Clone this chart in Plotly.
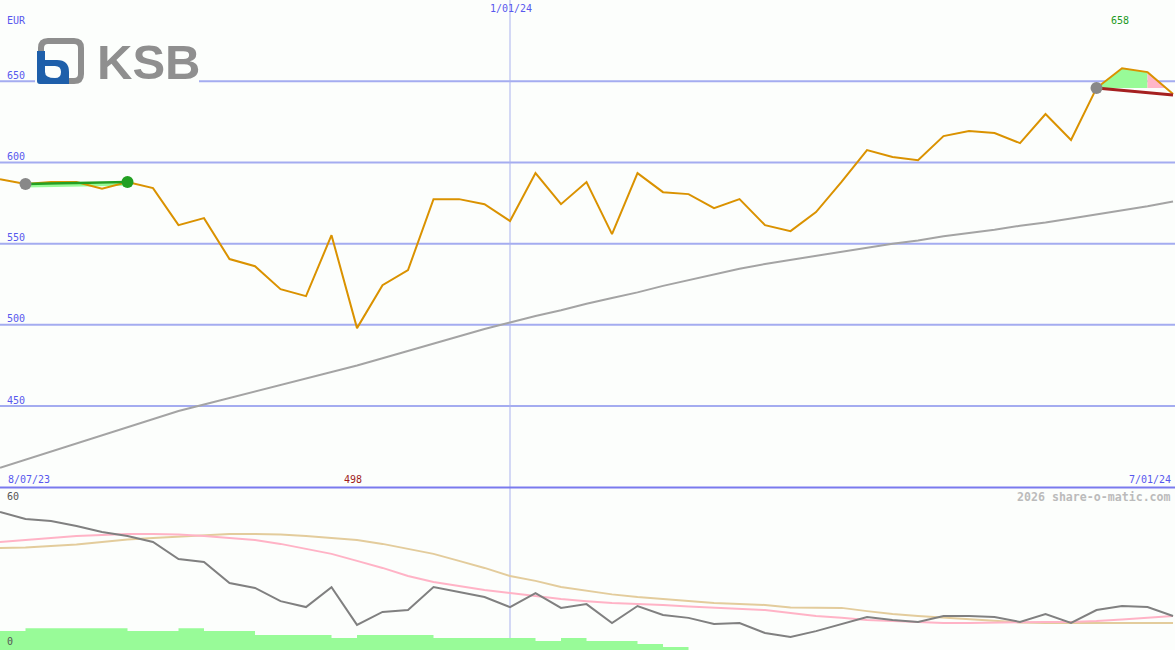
import plotly.graph_objects as go
import pandas as pd

# ---------------- data ----------------
dates = pd.date_range("2023-08-14", periods=47, freq="7D")

price = [589.7, 586.7, 587.9, 587.9, 583.8, 587.9, 584.2, 561.4, 565.7, 540.5,
         536.1, 522.0, 517.7, 555.2, 498.0, 524.4, 533.7, 577.4, 577.4, 574.3,
         563.9, 593.4, 574.3, 587.9, 555.9, 593.4, 581.7, 580.5, 571.9, 577.4,
         561.4, 557.7, 569.4, 588.0, 607.6, 603.3, 601.4, 616.2, 619.3, 618.1,
         611.9, 629.8, 613.8, 645.8, 658.0, 655.6, 642.1]

ma_long = [412, 417, 422, 427, 432, 437, 442, 447, 451, 455,
           459, 463, 467, 471, 475, 479.5, 484, 488.5, 493, 497.5,
           501.5, 505.5, 509, 513, 516.5, 520, 524, 527.5, 531, 534.5,
           537.5, 540, 542.5, 545, 547.5, 550, 552, 554.5, 556.5, 558.5,
           561, 563, 565.5, 568, 570.5, 573, 576]

ind_dark = [51.1, 48.5, 47.8, 45.9, 43.7, 42.2, 40.0, 33.7, 32.6, 24.8,
            23.0, 18.1, 15.9, 23.3, 9.3, 14.1, 14.8, 23.3, 21.5, 19.6,
            15.9, 21.1, 15.6, 17.0, 10.0, 16.3, 13.0, 11.9, 9.6, 10.0,
            6.3, 4.8, 7.0, 9.6, 12.2, 11.1, 10.4, 12.6, 12.6, 12.2,
            10.4, 13.3, 10.0, 14.8, 16.3, 15.9, 12.6]

ind_pink = [40.0, 40.7, 41.5, 42.2, 42.6, 43.0, 43.0, 42.8, 42.2, 41.5,
            40.7, 39.3, 37.4, 35.6, 33.0, 30.4, 27.4, 25.2, 23.7, 22.2,
            21.1, 20.0, 18.9, 18.1, 17.4, 17.0, 16.7, 16.1, 15.7, 15.4,
            14.8, 13.7, 12.6, 11.9, 11.1, 10.7, 10.4, 10.0, 10.0, 10.2,
            10.4, 10.4, 10.4, 10.7, 11.3, 12.0, 12.6]

ind_tan = [37.8, 38.0, 38.5, 39.1, 40.0, 40.9, 41.5, 42.0, 42.6, 43.0,
           43.0, 42.8, 42.2, 41.5, 40.7, 39.3, 37.4, 35.6, 33.0, 30.4,
           27.4, 25.6, 23.3, 21.9, 20.6, 19.6, 18.9, 18.1, 17.4, 17.0,
           16.7, 15.7, 15.6, 15.6, 14.4, 13.3, 12.6, 12.0, 11.3, 10.6,
           10.2, 10.0, 10.0, 10.0, 10.0, 10.0, 10.0]

bars = [7.0, 8.1, 8.1, 8.1, 8.1, 7.0, 7.0, 8.1, 7.0, 7.0,
        5.6, 5.6, 5.6, 4.4, 5.6, 5.6, 5.6, 4.4, 4.4, 4.4,
        4.4, 3.3, 4.4, 3.3, 3.3, 2.2, 1.1]

y_ticks = [450, 500, 550, 600, 650]
trade1 = (1, 5)          # entry / exit index of first trade
trade2_entry = 43        # entry index of open trade
trail_end = 641.5        # trailing line end value
high_label = "658"
low_label = "498"
start_label = "8/07/23"
mid_label = "1/01/24"
end_label = "7/01/24"

# ---------------- helpers ----------------
W, H = 1175, 650
BG = "#FCFEFC"
BLUE_TXT = "#5858EE"
GRID = "#A4ACF0"
FONT = "DejaVu Sans Mono"


def px(x):
    return x / W


def py(y):
    return 1 - y / H


fig = go.Figure()

# lower step histogram (bars span one week each)
bx = list(dates[:len(bars) + 1])
by = bars + [bars[-1]]
fig.add_trace(go.Scatter(x=bx, y=by, yaxis="y2", mode="lines", line_shape="hv",
                         line=dict(width=0, color="#98FB98"), fill="tozeroy",
                         fillcolor="#98FB98", hoverinfo="skip"))

# lower indicator lines
fig.add_trace(go.Scatter(x=dates, y=ind_tan, yaxis="y2", mode="lines",
                         line=dict(color="#E3CC9C", width=2)))
fig.add_trace(go.Scatter(x=dates, y=ind_pink, yaxis="y2", mode="lines",
                         line=dict(color="#FFB3C6", width=2)))
fig.add_trace(go.Scatter(x=dates, y=ind_dark, yaxis="y2", mode="lines",
                         line=dict(color="#808080", width=2)))

# long moving average
fig.add_trace(go.Scatter(x=dates, y=ma_long, mode="lines",
                         line=dict(color="#A4A4A4", width=2)))

# first trade band
e, x_ = trade1
band_top = [price[e] - 0.6, price[x_] - 0.6]
band_bot = [v - 1.6 for v in band_top]
fig.add_trace(go.Scatter(x=[dates[e], dates[x_]], y=band_bot, mode="lines",
                         line=dict(width=0, color="#98FB98")))
fig.add_trace(go.Scatter(x=[dates[e], dates[x_]], y=band_top, mode="lines",
                         line=dict(width=0, color="#98FB98"), fill="tonexty",
                         fillcolor="#98FB98"))

# open trade fills
base = price[trade2_entry]
gx = [dates[trade2_entry], dates[trade2_entry + 1], dates[trade2_entry + 2], dates[trade2_entry + 2]]
gy = [base, price[trade2_entry + 1], price[trade2_entry + 2], base]
fig.add_trace(go.Scatter(x=gx, y=gy, mode="lines", fill="toself",
                         fillcolor="#98FB98", line=dict(width=0)))
p0, p1 = price[trade2_entry + 2], price[trade2_entry + 3]
frac = (p0 - base) / (p0 - p1)
dcross = dates[trade2_entry + 2] + (dates[trade2_entry + 3] - dates[trade2_entry + 2]) * frac
fig.add_trace(go.Scatter(x=[dates[trade2_entry + 2], dcross, dates[trade2_entry + 2]],
                         y=[p0, base, base], mode="lines", fill="toself",
                         fillcolor="#FFB6C8", line=dict(width=0)))

# price line
fig.add_trace(go.Scatter(x=dates, y=price, mode="lines",
                         line=dict(color="#DA9200", width=2)))

# trade lines
fig.add_trace(go.Scatter(x=[dates[e], dates[x_]], y=[price[e], price[x_]], mode="lines",
                         line=dict(color="#22A022", width=2.5)))
fig.add_trace(go.Scatter(x=[dates[trade2_entry], dates[-1]], y=[base, trail_end], mode="lines",
                         line=dict(color="#A52020", width=3)))

# markers
fig.add_trace(go.Scatter(x=[dates[e], dates[trade2_entry]], y=[price[e], base], mode="markers",
                         marker=dict(color="#888888", size=12, line=dict(width=0))))
fig.add_trace(go.Scatter(x=[dates[x_]], y=[price[x_]], mode="markers",
                         marker=dict(color="#22A022", size=12, line=dict(width=0))))

# ---------------- shapes ----------------
shapes = []
for t in y_ticks:
    shapes.append(dict(type="line", xref="paper", x0=0, x1=1, yref="y", y0=t, y1=t,
                       line=dict(color=GRID, width=2), layer="below"))
shapes.append(dict(type="line", xref="x", x0=dates[20], x1=dates[20], yref="paper", y0=0, y1=1,
                   line=dict(color="#AAB2EE", width=1), layer="below"))
shapes.append(dict(type="line", xref="paper", x0=0, x1=1, yref="paper", y0=py(487.5), y1=py(487.5),
                   line=dict(color="#7A7AEE", width=2), layer="above"))

# logo
shapes.append(dict(type="rect", xref="paper", yref="paper", x0=px(35), x1=px(199), y0=py(88), y1=py(36),
                   fillcolor=BG, line=dict(width=0), layer="above"))
shapes.append(dict(type="path", xref="paper", yref="paper",
                   path=(f"M {px(48)},{py(41)} L {px(74)},{py(41)} Q {px(81)},{py(41)} {px(81)},{py(48)} "
                         f"L {px(81)},{py(74)} Q {px(81)},{py(81)} {px(74)},{py(81)} L {px(68)},{py(81)} "
                         f"M {px(41)},{py(52)} L {px(41)},{py(48)} Q {px(41)},{py(41)} {px(48)},{py(41)}"),
                   line=dict(color="#8E8E8E", width=6), layer="above"))
shapes.append(dict(type="path", xref="paper", yref="paper",
                   path=(f"M {px(37)},{py(51)} L {px(45)},{py(51)} L {px(45)},{py(60)} "
                         f"L {px(57)},{py(60)} Q {px(69)},{py(60)} {px(69)},{py(72)} L {px(69)},{py(84)} "
                         f"L {px(40)},{py(84)} Q {px(37)},{py(84)} {px(37)},{py(81)} Z"),
                   fillcolor="#1E5FAA", line=dict(width=0), layer="above"))
shapes.append(dict(type="path", xref="paper", yref="paper",
                   path=(f"M {px(45)},{py(66)} L {px(55)},{py(66)} Q {px(61)},{py(66)} {px(61)},{py(72)} "
                         f"Q {px(61)},{py(78)} {px(55)},{py(78)} Q {px(45)},{py(78)} {px(45)},{py(72)} Z"),
                   fillcolor=BG, line=dict(width=0), layer="above"))
shapes.append(dict(type="rect", xref="paper", yref="paper", x0=px(62), x1=px(69), y0=py(84), y1=py(78),
                   fillcolor="#1E5FAA", line=dict(width=0), layer="above"))

# ---------------- annotations ----------------
ann = []


def txt(text, x, y, color, xanchor="left", size=10, bold=False, font=FONT):
    ann.append(dict(text=f"<b>{text}</b>" if bold else text, xref="paper", yref="paper",
                    x=px(x), y=py(y), xanchor=xanchor, yanchor="middle", showarrow=False,
                    font=dict(family=font, size=size, color=color)))


txt("EUR", 5, 21, BLUE_TXT)
for t in y_ticks:
    ann.append(dict(text=str(t), xref="paper", yref="y", x=px(5), y=t, xanchor="left",
                    yanchor="middle", yshift=6, showarrow=False,
                    font=dict(family=FONT, size=10, color=BLUE_TXT)))
txt(mid_label, 511, 9, BLUE_TXT, xanchor="center")
txt(high_label, 1120, 21, "#229922", xanchor="center")
txt(start_label, 6, 479, BLUE_TXT)
txt(low_label, 353, 479, "#A01C1C", xanchor="center")
txt(end_label, 1173, 479, BLUE_TXT, xanchor="right")
txt("60", 5, 496, "#555555")
txt("0", 5, 641, "#555555")
txt("2026 share-o-matic.com", 1173, 497, "#BBBBBB", xanchor="right", size=11.6, bold=True)
txt("KSB", 148, 62, "#8F8F8F", xanchor="center", size=49, bold=True, font="Liberation Sans")

fig.update_layout(
    width=W, height=H, margin=dict(l=0, r=0, t=0, b=0),
    paper_bgcolor=BG, plot_bgcolor=BG, showlegend=False,
    xaxis=dict(range=[dates[0], dates[-1] + pd.Timedelta(hours=13)], visible=False, fixedrange=True),
    yaxis=dict(range=[400, 700], domain=[1 - 487.3 / H, 1], visible=False, fixedrange=True),
    yaxis2=dict(range=[0, 60], domain=[0, 162 / H], visible=False, fixedrange=True),
    shapes=shapes, annotations=ann, hovermode=False,
)

fig.write_html("out.html", config={"displayModeBar": False},
               post_script="document.body.style.margin='0';document.body.style.overflow='hidden';document.body.style.background='#FCFEFC';")
